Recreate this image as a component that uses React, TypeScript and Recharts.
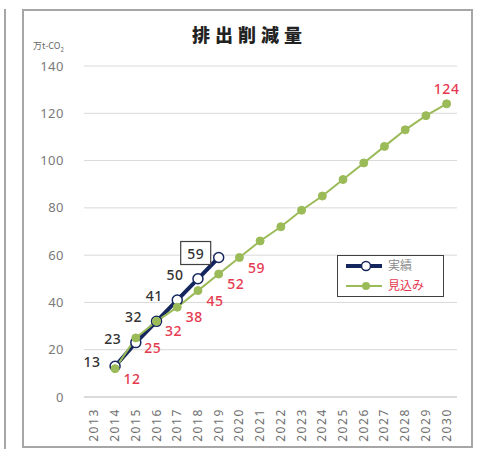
import { LineChart, Line, XAxis, YAxis, CartesianGrid, LabelList } from 'recharts';

const years = ['2013', '2014', '2015', '2016', '2017', '2018', '2019', '2020', '2021', '2022', '2023', '2024', '2025', '2026', '2027', '2028', '2029', '2030'];
const actual = [null, 13, 23, 32, 41, 50, 59, null, null, null, null, null, null, null, null, null, null, null];
const forecast = [null, 12, 25, 32, 38, 45, 52, 59, 66, 72, 79, 85, 92, 99, 106, 113, 119, 124];
const forecastLabelYears = ['2014', '2015', '2016', '2017', '2018', '2019', '2020', '2030'];
const yTicks = [0, 20, 40, 60, 80, 100, 120, 140];

const data = years.map((year, i) => ({ year, actual: actual[i], forecast: forecast[i] }));

const NAVY = '#14265e';
const GREEN = '#9bbb59';
const RED = '#e5394f';
const NUM_FONT = '"Noto Sans", "Open Sans", sans-serif';
const JP_FONT = '"Noto Sans CJK JP", sans-serif';

const XTick = (props: any) => {
  const { x, y, payload } = props;
  return (
    <g transform={`translate(${x + 4},${y + 3}) rotate(-90)`}>
      <text textAnchor="end" fontSize={12} letterSpacing={1.6} fill="#6f6f6f" fontFamily={NUM_FONT}>
        {payload.value}
      </text>
    </g>
  );
};

const actualLabel = (props: any) => {
  const { x, y, value, index } = props;
  if (value == null) return null;
  const cx = x - 23;
  const cy = y - 4;
  if (index === 6) {
    return (
      <g>
        <rect x={cx - 15} y={cy - 12} width={30} height={23} fill="#fff" stroke="#404040" strokeWidth={1.2} />
        <text x={cx} y={cy + 5} textAnchor="middle" fontSize={14} fontWeight={500} letterSpacing={0.5} fill="#333" fontFamily={NUM_FONT}>{value}</text>
      </g>
    );
  }
  return (
    <text x={cx} y={cy + 5} textAnchor="middle" fontSize={14} fontWeight={500} letterSpacing={0.5} fill="#333" fontFamily={NUM_FONT}>{value}</text>
  );
};

const forecastLabel = (props: any) => {
  const { x, y, value, index } = props;
  if (value == null || !forecastLabelYears.includes(years[index])) return null;
  if (years[index] === '2030') {
    return (
      <text x={x} y={y - 10} textAnchor="middle" fontSize={14} fontWeight={500} letterSpacing={0.5} fill={RED} fontFamily={NUM_FONT}>{value}</text>
    );
  }
  return (
    <text x={x + 17} y={y + 15} textAnchor="middle" fontSize={14} fontWeight={500} letterSpacing={0.5} fill={RED} fontFamily={NUM_FONT}>{value}</text>
  );
};

const LegendBox = () => (
  <div style={{ position: 'absolute', left: 337, top: 255, width: 107, height: 42, border: '1.5px solid #404040', background: '#fff', boxSizing: 'border-box' }}>
    <svg width={104} height={39} style={{ display: 'block' }}>
      <line x1={8} y1={10} x2={44} y2={10} stroke={NAVY} strokeWidth={4} />
      <circle cx={28} cy={10} r={4.5} fill="#fff" stroke={NAVY} strokeWidth={1.5} />
      <text x={50} y={14} fontSize={12} fill="#8a8a8a" fontFamily={JP_FONT}>実績</text>
      <line x1={8} y1={30} x2={44} y2={30} stroke={GREEN} strokeWidth={2} />
      <circle cx={28} cy={30} r={4} fill={GREEN} />
      <text x={50} y={34} fontSize={12} fill={RED} fontFamily={JP_FONT}>見込み</text>
    </svg>
  </div>
);

export default function App() {
  return (
    <div style={{ position: 'absolute', left: 0, top: 0, width: 479, height: 452, background: '#fff' }}>
      <div style={{ position: 'absolute', left: 4, top: 9, width: 2, height: 440, background: '#a6a6a6' }} />
      <div style={{ position: 'absolute', left: 22, top: 9, width: 451, height: 439, border: '2px solid #a6a6a6', boxSizing: 'border-box' }} />
      <div style={{ position: 'absolute', left: 0, top: 21, width: 499, textAlign: 'center', fontFamily: JP_FONT, fontWeight: 900, fontSize: 18, letterSpacing: 5, color: '#222' }}>
        排出削減量
      </div>
      <div style={{ position: 'absolute', left: 33, top: 39, fontFamily: JP_FONT, fontSize: 9, color: '#666' }}>
        万t-CO<sub style={{ fontSize: 6 }}>2</sub>
      </div>
      <div style={{ position: 'absolute', left: 0, top: 0 }}>
        <LineChart width={479} height={452} data={data} margin={{ top: 66, right: 22, bottom: 10, left: 44 }}>
          <CartesianGrid horizontal vertical={false} stroke="#d9d9d9" />
          <XAxis
            dataKey="year"
            interval={0}
            height={45}
            tick={<XTick />}
            tickLine={false}
            axisLine={{ stroke: '#c8c8c8' }}
            padding={{ left: 10.36, right: 10.36 }}
          />
          <YAxis
            width={40}
            domain={[0, 140]}
            ticks={yTicks}
            axisLine={false}
            tickLine={false}
            tickMargin={14}
            tick={{ fontSize: 13, fill: '#7a7a7a', fontFamily: NUM_FONT, letterSpacing: 0.5 }}
          />
          <Line
            dataKey="actual"
            name="実績"
            stroke={NAVY}
            strokeWidth={4}
            dot={{ r: 5, fill: '#fff', stroke: NAVY, strokeWidth: 1.5 }}
            isAnimationActive={false}
          >
            <LabelList dataKey="actual" content={actualLabel} />
          </Line>
          <Line
            dataKey="forecast"
            name="見込み"
            stroke={GREEN}
            strokeWidth={2}
            dot={{ r: 4, fill: GREEN, stroke: GREEN, strokeWidth: 1 }}
            isAnimationActive={false}
          >
            <LabelList dataKey="forecast" content={forecastLabel} />
          </Line>
        </LineChart>
      </div>
      <LegendBox />
    </div>
  );
}
